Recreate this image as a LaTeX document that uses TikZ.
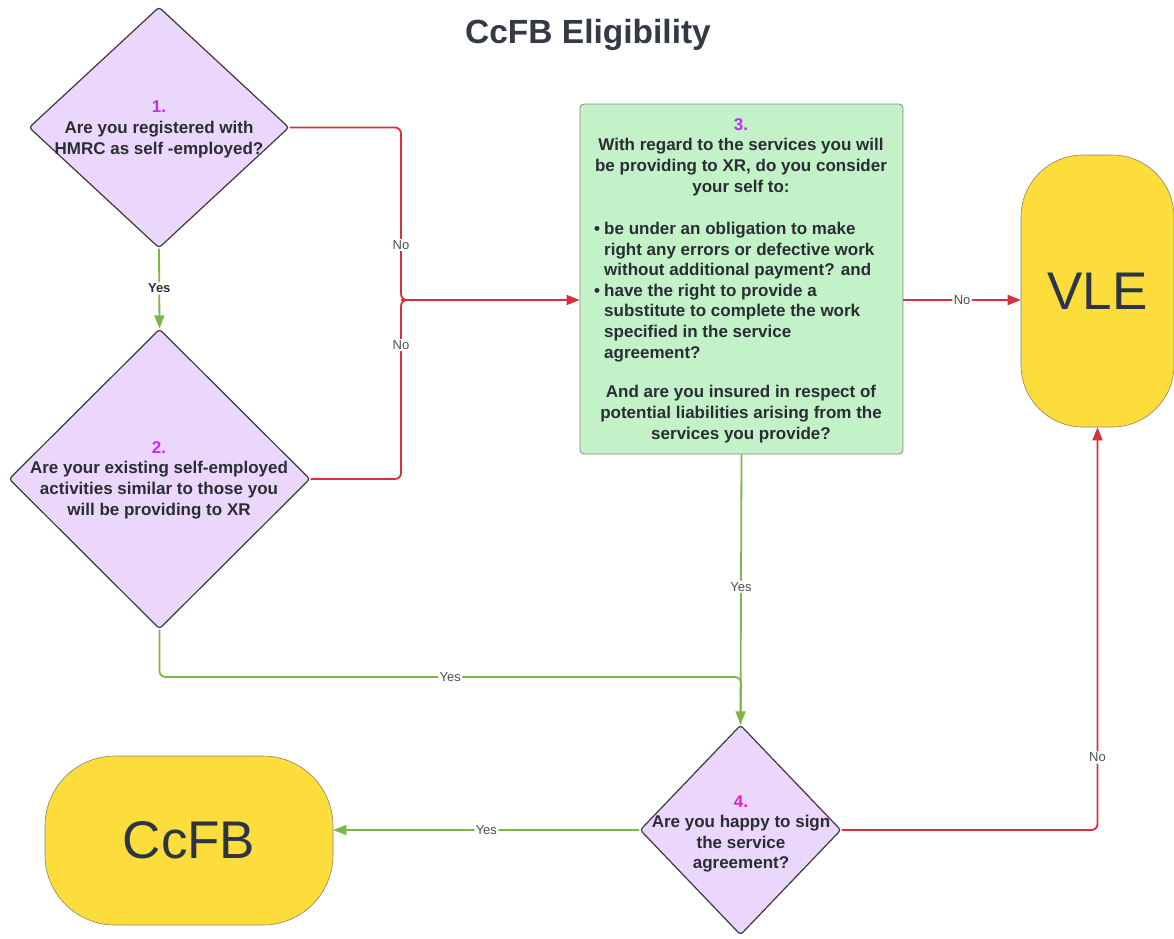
\documentclass[tikz,border=0pt]{standalone}
\usepackage{fontspec}
\setmainfont{Liberation Sans}
\usetikzlibrary{shapes.geometric,arrows.meta,calc}
\definecolor{diagfill}{HTML}{EBD7FC}
\definecolor{diagborder}{HTML}{3A3A3E}
\definecolor{boxfill}{HTML}{C3F2C8}
\definecolor{boxborder}{HTML}{7E8C80}
\definecolor{termfill}{HTML}{FDDD3C}
\definecolor{termborder}{HTML}{8A8470}
\definecolor{cred}{HTML}{D6303C}
\definecolor{cgreen}{HTML}{7AB648}
\definecolor{qtextc}{HTML}{2A2D33}
\definecolor{termtext}{HTML}{2B3544}
\definecolor{titlec}{HTML}{333A46}
\definecolor{numpurple}{HTML}{C02CF5}
\definecolor{nummagenta}{HTML}{E11FC0}
\definecolor{lblgray}{HTML}{4A4F55}
\begin{document}
\begin{tikzpicture}[x=1pt,y=-1pt,
  decision/.style={diamond, draw=diagborder, fill=diagfill, line width=1.2pt, rounded corners=3pt, inner sep=0pt},
  terminal/.style={rectangle, draw=termborder, fill=termfill, line width=0.6pt, text=termtext, font=\fontsize{53}{60}\selectfont, inner sep=0pt},
  qtext/.style={font=\bfseries\fontsize{17}{20.6}\selectfont, text=qtextc, align=center, inner sep=0pt},
  lbl/.style={font=\fontsize{13}{15}\selectfont, text=lblgray, fill=white, inner sep=1.5pt},
  redline/.style={draw=cred, line width=1.8pt, rounded corners=6pt},
  greenline/.style={draw=cgreen, line width=1.8pt, rounded corners=6pt},
  tip/.style={-{Triangle[length=13pt,width=10pt]}}
]
\useasboundingbox (0,0) rectangle (1174,938);
\fill[white] (0,0) rectangle (1174,938);

\node[font=\bfseries\fontsize{33.5}{40}\selectfont, text=titlec] (title) at (588,35) {CcFB Eligibility};

% shapes
\node[decision, minimum width=260pt, minimum height=241pt] (d1) at (159,127.5) {};
\node[decision, minimum width=301pt, minimum height=300pt] (d2) at (159.5,479) {};
\node[decision, minimum width=201pt, minimum height=210pt] (d4) at (740.5,830) {};
\node[rectangle, draw=boxborder, fill=boxfill, line width=0.8pt, rounded corners=4pt, minimum width=323pt, minimum height=350pt, inner sep=0pt] (q3) at (741.5,279) {};
\node[terminal, rounded corners=62pt, minimum width=153pt, minimum height=272pt] (vle) at (1097.5,291) {VLE};
\node[terminal, rounded corners=70pt, minimum width=288pt, minimum height=169pt] (ccfb) at (189,840.5) {CcFB};

% texts
\node[qtext] (t1) at (159,129.5) {\textcolor{numpurple}{1.}\\Are you registered with\\HMRC as self -employed?};
\node[qtext] (t2) at (159,480) {\textcolor{numpurple}{2.}\\Are your existing self-employed\\activities similar to those you\\will be providing to XR};
\node[qtext] (t4) at (741,834) {\textcolor{nummagenta}{4.}\\Are you happy to sign\\the service\\agreement?};
\node[qtext] (t3a) at (741,157) {\textcolor{numpurple}{3.}\\With regard to the services you will\\be providing to XR, do you consider\\your self to:};
\node[qtext, align=left, anchor=west] (t3b) at (594,292) {\makebox[10pt][l]{•}be under an obligation to make\\\hspace*{10pt}right any errors or defective work\\\hspace*{10pt}without additional payment? and\\\makebox[10pt][l]{•}have the right to provide a\\\hspace*{10pt}substitute to complete the work\\\hspace*{10pt}specified in the service\\\hspace*{10pt}agreement?};
\node[qtext] (t3c) at (741,414) {And are you insured in respect of\\potential liabilities arising from the\\services you provide?};

% connectors
\coordinate (j) at (401,300);
\coordinate (m) at (741,677);
\draw[redline] (d1.east) -| node[lbl, pos=0.84]{No} (j) -- ++(10,0);
\draw[redline] (d2.east) -| node[lbl, pos=0.874]{No} (j) -- ++(10,0);
\draw[redline, tip] (j) -- (j -| q3.west);
\draw[redline, tip] (j -| q3.east) -- node[lbl]{No} (j -| vle.west);
\draw[greenline, tip] (d1.south) -- node[lbl, font=\bfseries\fontsize{13}{15}\selectfont, text=qtextc]{Yes} (d2.north);
\draw[greenline] (d2.south) |- node[lbl, pos=0.75]{Yes} (m) -- (d4.north);
\draw[greenline, tip] (q3.south) -- node[lbl, pos=0.49]{Yes} (d4.north);
\draw[greenline, tip] (d4.west) -- node[lbl]{Yes} (d4.west -| ccfb.east);
\draw[redline, tip] (d4.east) -| node[lbl, pos=0.59]{No} (vle.south);
\end{tikzpicture}
\end{document}
